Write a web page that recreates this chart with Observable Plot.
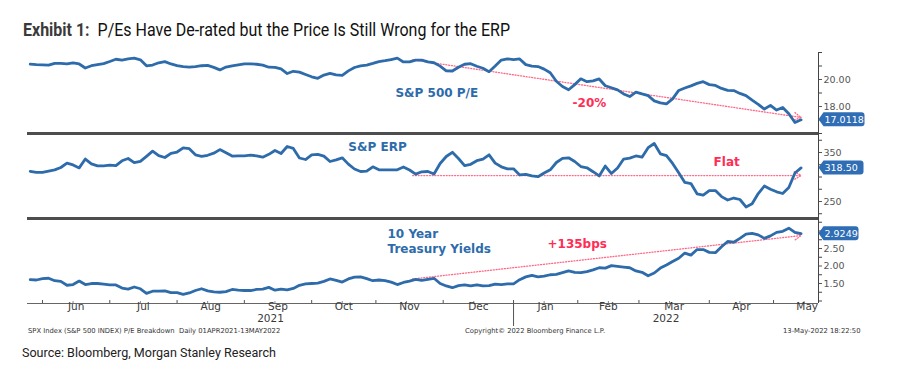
<!DOCTYPE html>
<html><head><meta charset="utf-8">
<script src="https://cdn.jsdelivr.net/npm/d3@7"></script>
<script src="https://cdn.jsdelivr.net/npm/@observablehq/plot@0.6"></script>
<style>
html,body{margin:0;padding:0;background:#fff;}
#wrap{position:relative;width:898px;height:378px;overflow:hidden;background:#fff;}
#wrap svg{position:absolute;left:0;top:0;}
#title{position:absolute;left:23px;top:19px;font-family:Roboto;font-size:18px;line-height:22px;white-space:nowrap;transform-origin:0 0;color:#111;}
#title b{color:#3a3a3a;font-weight:700;}
.foot{position:absolute;top:327px;font-family:"DejaVu Sans";font-size:6.8px;color:#333;white-space:nowrap;}
#source{position:absolute;left:22px;top:345px;font-family:Roboto;font-size:12.5px;color:#222;white-space:nowrap;transform-origin:0 0;}
</style></head>
<body><div id="wrap">
<div id="title"><b>Exhibit 1:</b>&nbsp; P/Es Have De-rated but the Price Is Still Wrong for the ERP</div>
<div class="foot" style="left:28px">SPX Index (S&amp;P 500 INDEX) P/E Breakdown&nbsp; Daily 01APR2021-13MAY2022</div>
<div class="foot" style="left:465px">Copyright© 2022 Bloomberg Finance L.P.</div>
<div class="foot" style="left:783px">13-May-2022 18:22:50</div>
<div id="source">Source: Bloomberg, Morgan Stanley Research</div>
</div>
<script>
// ---- data (sampled every 2 weekdays starting 2021-05-26, last point 2022-05-13) ----
const startDate = "2021-05-26";
const stepWeekdays = 2;
const pe = [21.14,21.10,21.09,21.07,21.20,21.19,21.16,21.23,21.15,20.85,
21.02,21.10,21.18,21.33,21.50,21.44,21.53,21.58,21.46,21.01,
21.07,21.24,21.32,21.15,21.03,20.95,20.92,20.96,21.02,21.04,
20.90,20.71,20.92,21.01,21.08,21.16,21.16,21.13,21.07,20.91,
20.90,20.78,20.44,20.61,20.55,20.37,20.20,20.09,20.33,20.46,
20.35,20.30,20.64,20.89,21.01,21.07,21.19,21.33,21.39,21.48,
21.58,21.30,21.30,21.44,21.44,21.30,21.24,20.99,20.64,20.63,
20.91,21.13,21.17,20.98,20.83,20.58,21.00,21.44,21.53,21.47,
21.52,21.10,20.99,20.96,20.77,20.50,19.87,19.48,19.24,19.62,
20.05,19.84,19.90,20.04,19.54,19.39,19.23,18.93,18.74,19.07,
18.93,18.81,18.42,18.27,18.20,18.57,19.19,19.37,19.53,19.71,
19.84,19.62,19.56,19.34,19.19,19.18,18.97,18.81,18.47,18.16,
17.81,18.08,17.74,17.93,17.46,16.81,17.0118];
const erp = [311.6,309.6,309.6,312.2,314.5,319.4,328.2,324.7,318.6,336.7,
326.9,322.7,322.9,324.1,323.1,333.1,337.8,329.2,331.8,342.2,
352.7,343.5,339.8,348.4,351.0,359.6,357.8,345.3,342.0,344.3,
348.6,355.9,349.6,342.7,343.3,343.3,344.5,343.3,340.4,346.3,
354.1,348.0,362.2,358.4,338.8,335.7,345.1,346.3,342.7,331.6,
335.1,339.2,326.3,316.3,311.2,312.0,320.8,314.7,314.7,314.7,
314.7,320.4,314.3,305.9,310.6,311.2,306.1,327.6,341.8,350.4,
337.8,323.1,325.9,333.3,336.5,345.3,328.4,320.8,316.7,316.7,
304.3,305.5,302.2,300.6,308.2,314.7,329.6,338.2,339.2,331.6,
321.4,318.8,310.8,302.2,322.4,307.1,318.4,336.7,338.4,342.9,
340.4,359.8,368.4,347.3,343.5,327.6,308.6,289.0,286.7,265.7,
262.9,272.4,272.4,260.0,253.1,257.1,254.1,238.8,245.3,266.3,
281.6,274.9,269.8,266.3,278.6,308.2,318.5];
const ust10 = [1.61,1.60,1.64,1.65,1.58,1.56,1.45,1.47,1.57,1.47,
1.50,1.50,1.48,1.46,1.46,1.37,1.34,1.40,1.35,1.22,
1.28,1.28,1.29,1.24,1.24,1.19,1.23,1.30,1.35,1.29,
1.26,1.25,1.27,1.33,1.31,1.30,1.30,1.33,1.34,1.39,
1.31,1.34,1.32,1.36,1.45,1.49,1.50,1.51,1.56,1.63,
1.59,1.54,1.63,1.68,1.69,1.64,1.58,1.60,1.58,1.54,
1.47,1.53,1.57,1.62,1.59,1.62,1.65,1.50,1.43,1.38,
1.44,1.46,1.43,1.46,1.43,1.44,1.48,1.47,1.49,1.49,
1.61,1.69,1.73,1.69,1.71,1.75,1.76,1.81,1.86,1.82,
1.81,1.84,1.89,1.95,1.94,2.01,1.99,1.97,1.95,1.86,
1.82,1.72,1.80,1.94,2.03,2.13,2.22,2.37,2.31,2.47,
2.47,2.39,2.38,2.55,2.70,2.68,2.79,2.91,2.93,2.89,
2.79,2.86,2.96,2.99,3.08,2.96,2.9249];
const lastLabels = ["17.0118", "318.50", "2.9249"];
const monthLabels = ["Jun","Jul","Aug","Sep","Oct","Nov","Dec","Jan","Feb","Mar","Apr","May"];
const monthStarts = ["2021-06-01","2021-07-01","2021-08-01","2021-09-01","2021-10-01","2021-11-01","2021-12-01","2022-01-01","2022-02-01","2022-03-01","2022-04-01","2022-05-01","2022-06-01"];
const yearLabels = ["2021", "2022"];
const yearBreak = "2022-01-01";
const trendDates = ["2021-11-17", "2022-05-13"];
const peTrend = [21.46, 17.19];
const erpTrend = [303, 303];
const ustTrend = [1.63, 2.87];
const peTicks = [18, 20], peMinor = [16, 17, 19, 21, 22];
const erpTicks = [250, 350], erpMinor = [225, 275, 300, 325, 375];
const ustTicks = [1.5, 2.0, 2.5], ustMinor = [1.0, 1.25, 1.75, 2.25, 2.75, 3.0, 3.25];

// ---- helpers ----
const start = new Date(startDate + "T00:00:00Z");
function wd(s) { // weekday offset from startDate
  const d = new Date(s + "T00:00:00Z"); let n = 0;
  for (let t = new Date(start); t < d; t.setUTCDate(t.getUTCDate() + 1)) { const w = t.getUTCDay(); if (w !== 0 && w !== 6) n++; }
  return n;
}
const BLUE = "#2d6bab", RED = "#ff2d55", PINK = "#ff4f72";
const W = 898, H = 378, ML = 27, MR = 80;
const xDomain = [-0.9, 257.7];
const series = a => a.map((v, i) => ({x: i * stepWeekdays, v}));
const trend = (vals) => [{x1: wd(trendDates[0]), y1: vals[0], x2: wd(trendDates[1]), y2: vals[1]}];

function valueBox(value, text, w) {
  return (index, scales, values, dims) => {
    const ys = typeof scales.y === "function" ? scales.y : scales.scales.y.apply;
    const y = ys(value);
    const x0 = dims.width - dims.marginRight + 0.5, h = 14, p = 5;
    const g = d3.create("svg:g");
    g.append("path").attr("d", `M${x0},${y} L${x0+p},${y-h/2} H${x0+w-3} Q${x0+w},${y-h/2} ${x0+w},${y-h/2+3} V${y+h/2-3} Q${x0+w},${y+h/2} ${x0+w-3},${y+h/2} H${x0+p} Z`).attr("fill", "#2f6db5");
    g.append("text").attr("x", x0 + 6).attr("y", y).attr("dy", "0.36em").attr("fill", "#fff")
      .attr("text-anchor", "start").attr("font-family", "DejaVu Sans").attr("font-size", 9.5).text(text);
    return g.node();
  };
}
function note(x, y, text, fill) {
  return Plot.text([{x, y, text}], {x: "x", y: "y", text: "text", textAnchor: "start", fill, fontWeight: "bold", fontSize: 12, fontFamily: "DejaVu Sans"});
}
function panel(top, bottom, yDomain, marks) {
  return Plot.plot({
    width: W, height: H, marginLeft: ML, marginRight: MR, marginTop: top, marginBottom: H - bottom,
    x: {domain: xDomain, axis: null}, y: {domain: yDomain},
    style: {background: "transparent", fontFamily: "DejaVu Sans", fontSize: "9.5px", overflow: "visible", maxWidth: "none"},
    marks
  });
}
const rightAxis = (ticks, minor, fmt) => [
  Plot.axisY({anchor: "right", ticks: minor, tickSize: 3, tickFormat: () => "", color: "#444"}),
  Plot.axisY({anchor: "right", ticks, tickSize: 3, tickPadding: 2, tickFormat: fmt, color: "#555", fontSize: 9.5}),
  Plot.ruleX([xDomain[1]], {stroke: "#444", strokeWidth: 1})
];
const lineOpts = {x: "x", y: "v", stroke: BLUE, strokeWidth: 2.8, strokeLinejoin: "round", strokeLinecap: "round"};
const arrowOpts = {x1: "x1", y1: "y1", x2: "x2", y2: "y2", stroke: PINK, strokeWidth: 1.3, strokeDasharray: "1,1.8", strokeOpacity: 0.85, headLength: 9, bend: 0};

// panel 1: P/E
const peDom = [16, 22];
const p1 = panel(52, 133, peDom, [
  ...rightAxis(peTicks, peMinor, d3.format(".2f")),
  Plot.ruleY([peDom[0]], {stroke: "#4d4d4d", strokeWidth: 3}),
  Plot.arrow(trend(peTrend), arrowOpts),
  Plot.line(series(pe), lineOpts),
  note(119.4, 18.96, "S&P 500 P/E", BLUE),
  note(177.3, 18.22, "-20%", RED),
  valueBox(pe[pe.length - 1], lastLabels[0], 46)
]);
// panel 2: ERP
const erpDom = [215.3, 388.8];
const p2 = panel(133, 218, erpDom, [
  ...rightAxis(erpTicks, erpMinor, d3.format("d")),
  Plot.ruleY([erpDom[0]], {stroke: "#4d4d4d", strokeWidth: 3}),
  Plot.arrow(trend(erpTrend), arrowOpts),
  Plot.line(series(erp), lineOpts),
  note(104.0, 360.2, "S&P ERP", BLUE),
  note(223.4, 329.6, "Flat", RED),
  valueBox(erp[erp.length - 1], lastLabels[1], 45)
]);
// panel 3: 10Y yields + time axis
const ustDom = [0.929, 3.357];
const mStart = monthStarts.map(wd);
const mTicks = mStart.slice(0, 12);
const mMid = monthLabels.map((m, i) => ({x: (mStart[i] + mStart[i + 1]) / 2, m}));
const midTicks = monthStarts.slice(0, 12).map(s => wd(s.slice(0, 8) + "15"));
const jan = wd(yearBreak);
const years = [{x: (xDomain[0] + jan) / 2, t: yearLabels[0]}, {x: (jan + xDomain[1]) / 2, t: yearLabels[1]}];
const p3 = panel(218, 303, ustDom, [
  ...rightAxis(ustTicks, ustMinor, d3.format(".2f")),
  Plot.ruleY([ustDom[0]], {stroke: "#666", strokeWidth: 1}),
  Plot.ruleX(mTicks, {stroke: "#555", insetTop: 82}),
  Plot.ruleX(midTicks, {stroke: "#888", insetTop: 83}),
  Plot.ruleX([jan], {stroke: "#555", insetTop: 85, insetBottom: -23}),
  Plot.text(mMid, {x: "x", text: "m", frameAnchor: "bottom", dy: 6, fill: "#3a3a3a", fontSize: 10.5, fontFamily: "DejaVu Sans"}),
  Plot.text(years, {x: "x", text: "t", frameAnchor: "bottom", dy: 18, fill: "#3a3a3a", fontSize: 10.5, fontFamily: "DejaVu Sans"}),
  Plot.arrow(trend(ustTrend), arrowOpts),
  Plot.line(series(ust10), lineOpts),
  note(116.8, 2.90, "10 Year", BLUE),
  note(116.8, 2.47, "Treasury Yields", BLUE),
  note(169.1, 2.61, "+135bps", RED),
  valueBox(ust10[ust10.length - 1], lastLabels[2], 40)
]);
const wrap = document.getElementById("wrap");
[p1, p2, p3].forEach(p => wrap.appendChild(p));

// fit condensed-looking title & source widths
const fit = (id, target) => { const el = document.getElementById(id); const w = el.getBoundingClientRect().width; el.style.transform = `scaleX(${target / w})`; };
fit("title", 487);
fit("source", 254);
</script>
</body></html>
